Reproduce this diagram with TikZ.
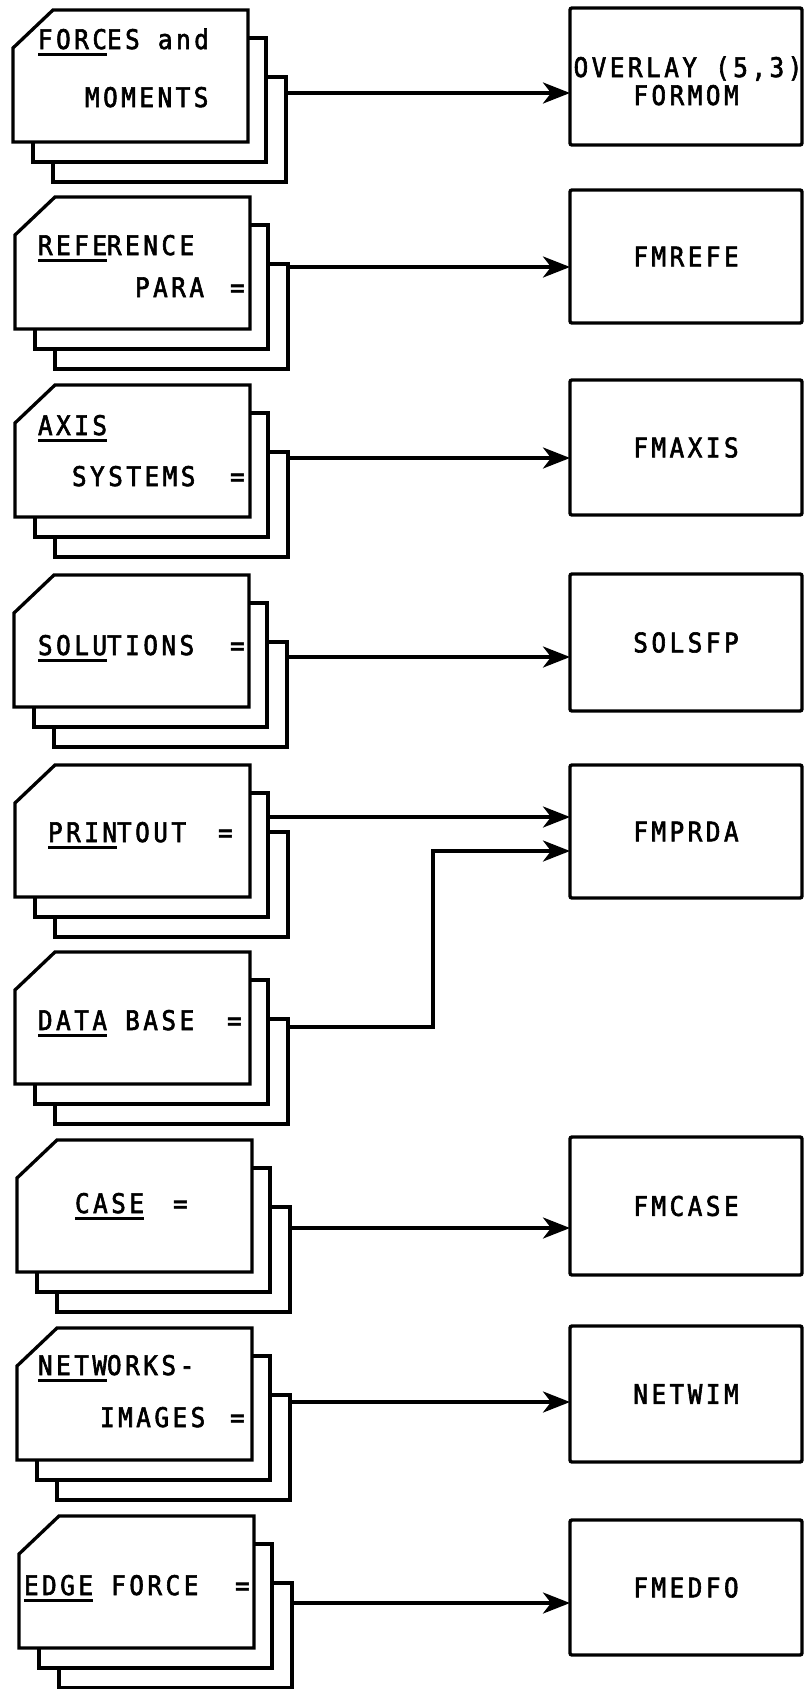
\documentclass[tikz,border=0pt]{standalone}
\usepackage{fontspec}
\newfontfamily\plotfont[LetterSpace=13, FakeStretch=0.9, FakeBold=2.2]{DejaVu Sans Mono}
\usetikzlibrary{arrows.meta}

% underline a few leading letters, as the plotter does
\newcommand\ulfour[1]{\setbox0\hbox{#1}\rlap{\rule[-6.5pt]{\wd0}{2.8pt}}\box0\relax}

% a stack of three punched cards, front card top-left at (#1,#2)
\newcommand\cardstack[2]{%
  \begin{scope}[shift={(#1,#2)}]
    \draw[sheet] (0,38) -- (40,0) -- (235,0) -- (235,132) -- (0,132) -- cycle;
    \draw[sheet] (235,28) -- (253,28) -- (253,152) -- (20,152) -- (20,132);
    \draw[sheet] (253,67) -- (273,67) -- (273,172) -- (40,172) -- (40,152);
  \end{scope}}

\tikzset{
  sheet/.style={line width=3.3pt, line join=miter},
  prog/.style={draw, line width=3.4pt, rounded corners=2pt, anchor=north west,
    minimum width=232, inner sep=0pt, outer sep=0pt, font=\plotfont},
  lbl/.style={anchor=base west, inner sep=0pt, outer sep=0pt, font=\plotfont},
  flow/.style={line width=3.6pt, -{Stealth[length=27pt,width=21pt,inset=8pt]}},
}

\begin{document}
\begin{tikzpicture}[x=1pt, y=-1pt]
\fill[white] (0,0) rectangle (804,1689);
\useasboundingbox (0,0) rectangle (804,1689);
\fontsize{27}{30}\selectfont

% ---- card stacks (input data groups)
\cardstack{13}{10}
\cardstack{15}{197}
\cardstack{15}{385}
\cardstack{14}{575}
\cardstack{15}{765}
\cardstack{15}{952}
\cardstack{17}{1140}
\cardstack{17}{1328}
\cardstack{19}{1516}

\coordinate (o1) at (286,93);
\coordinate (o2) at (288,267);
\coordinate (o3) at (288,458);
\coordinate (o4) at (287,657);
\coordinate (o5) at (268,817);
\coordinate (o6) at (288,1027);
\coordinate (o7) at (290,1228);
\coordinate (o8) at (290,1402);
\coordinate (o9) at (292,1603);

% ---- card captions
\node[lbl] (t1a) at (38,49) {\ulfour{FORC}ES and};
\node[lbl] (t1b) at (85,107) {MOMENTS};
\node[lbl] (t2a) at (38,255) {\ulfour{REFE}RENCE};
\node[lbl] (t2b) at (135,297) {PARA};
\node[lbl] (e2) at (230,297) {=};
\node[lbl] (t3a) at (38,435) {\ulfour{AXIS}};
\node[lbl] (t3b) at (72,486) {SYSTEMS};
\node[lbl] (e3) at (230,486) {=};
\node[lbl] (t4a) at (38,655) {\ulfour{SOLU}TIONS};
\node[lbl] (e4) at (230,655) {=};
\node[lbl] (t5a) at (48,842) {\ulfour{PRIN}TOUT};
\node[lbl] (e5) at (218,842) {=};
\node[lbl] (t6a) at (38,1030) {\ulfour{DATA} BASE};
\node[lbl] (e6) at (227,1030) {=};
\node[lbl] (t7a) at (75,1213) {\ulfour{CASE}};
\node[lbl] (e7) at (173,1213) {=};
\node[lbl] (t8a) at (38,1375) {\ulfour{NETW}ORKS-};
\node[lbl] (t8b) at (100,1427) {IMAGES};
\node[lbl] (e8) at (230,1427) {=};
\node[lbl] (t9a) at (24,1595) {\ulfour{EDGE} FORCE};
\node[lbl] (e9) at (235,1595) {=};

% ---- program modules
\node[prog, minimum height=137] (b1) at (570,8) {};
\node[lbl, anchor=base] (p1a) at (688,77) {OVERLAY (5,3)};
\node[lbl, anchor=base] (p1b) at (686,105) {FORMOM};
\node[prog, minimum height=133] (b2) at (570,190) {FMREFE};
\node[prog, minimum height=135] (b3) at (570,380) {FMAXIS};
\node[prog, minimum height=137] (b4) at (570,574) {SOLSFP};
\node[prog, minimum height=133] (b5) at (570,765) {FMPRDA};
\node[prog, minimum height=138] (b7) at (570,1137) {FMCASE};
\node[prog, minimum height=136] (b8) at (570,1326) {NETWIM};
\node[prog, minimum height=135] (b9) at (570,1520) {FMEDFO};

% ---- data flow
\draw[flow] (o1) -- (o1 -| b1.west);
\draw[flow] (o2) -- (o2 -| b2.west);
\draw[flow] (o3) -- (o3 -| b3.west);
\draw[flow] (o4) -- (o4 -| b4.west);
\draw[flow] (o5) -- (o5 -| b5.west);
\coordinate (m6) at (433,851);
\draw[flow] (o6) -| (m6) -- (m6 -| b5.west);
\draw[flow] (o7) -- (o7 -| b7.west);
\draw[flow] (o8) -- (o8 -| b8.west);
\draw[flow] (o9) -- (o9 -| b9.west);
\end{tikzpicture}
\end{document}
